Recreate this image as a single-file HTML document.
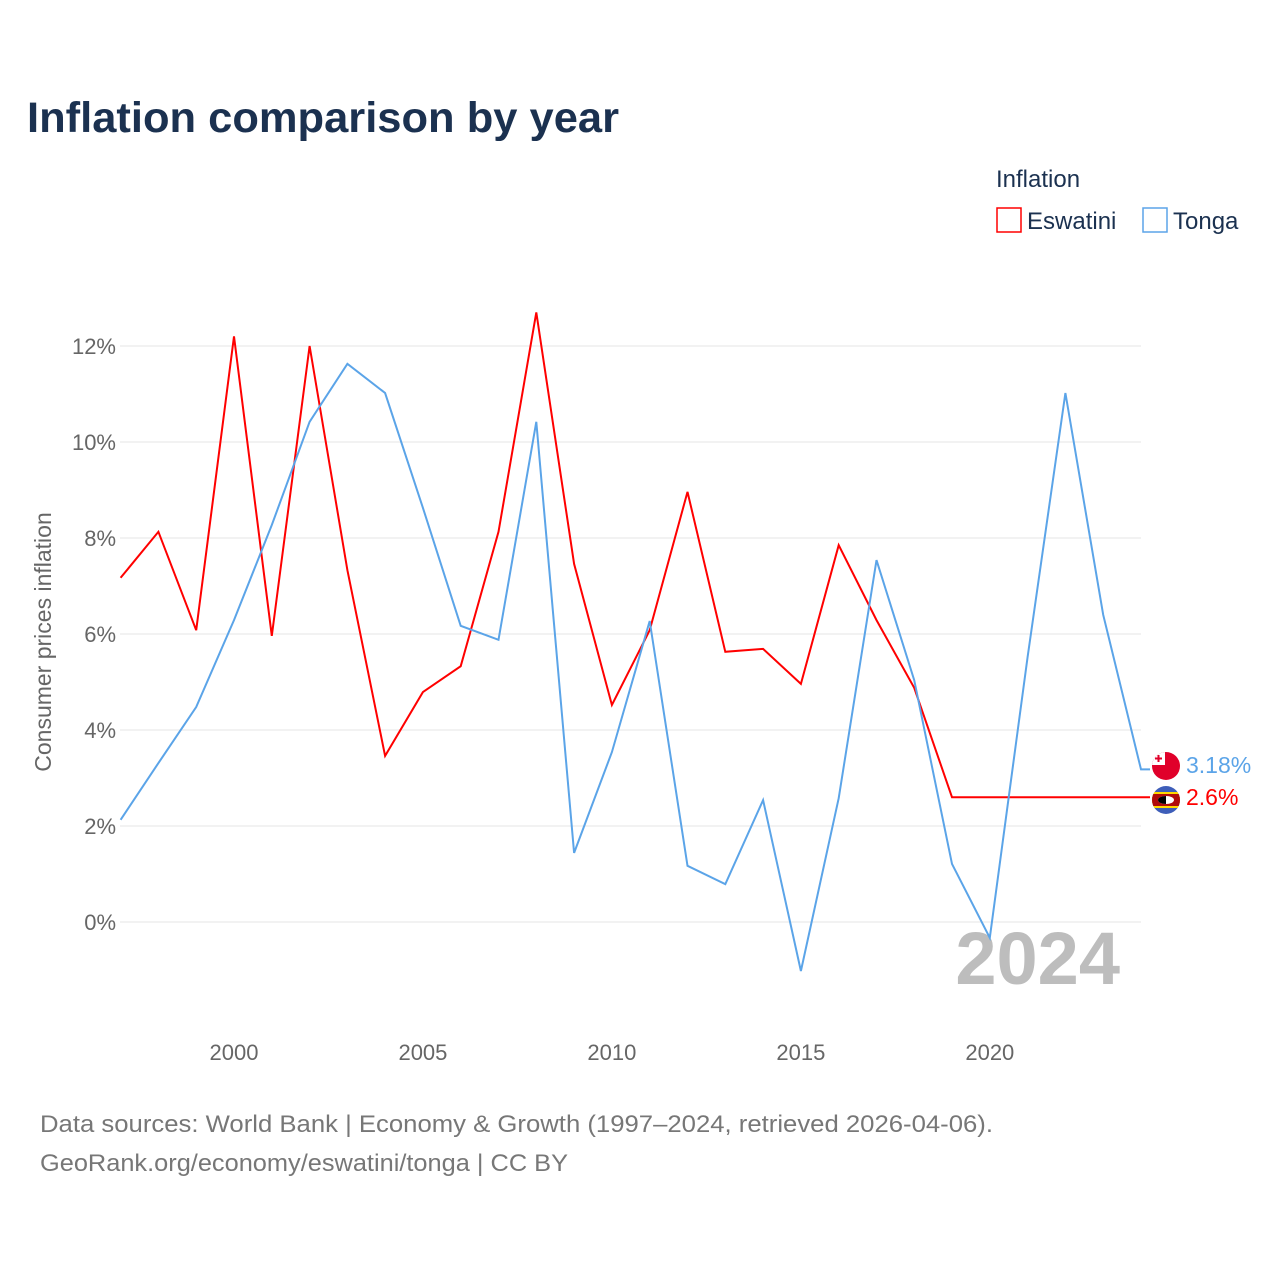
<!DOCTYPE html>
<html><head><meta charset="utf-8"><style>
body{margin:0;background:#fff;font-family:"Liberation Sans",sans-serif;}
#wrap{position:relative;width:1280px;height:1280px;overflow:hidden;}
</style></head><body>
<div id="wrap">
<svg id="chart" width="1280" height="1280" xmlns="http://www.w3.org/2000/svg">
<text x="27" y="132" font-size="43" font-weight="bold" fill="#1b3150" textLength="592" lengthAdjust="spacingAndGlyphs">Inflation comparison by year</text>
<text x="996" y="187" font-size="24" fill="#1b3150">Inflation</text>
<g><rect x="997" y="208" width="24" height="24" fill="none" stroke="#ff0000" stroke-width="1.5"/><text x="1027" y="229" font-size="24" fill="#1b3150">Eswatini</text></g>
<g><rect x="1143" y="208" width="24" height="24" fill="none" stroke="#5ba4e8" stroke-width="1.5"/><text x="1173" y="229" font-size="24" fill="#1b3150">Tonga</text></g>
<g id="grid"></g><g id="yticks"></g><g id="xticks"></g>
<text x="1120" y="984" font-size="74" font-weight="bold" fill="#bdbdbd" text-anchor="end">2024</text>
<text transform="translate(51,642) rotate(-90)" font-size="23" fill="#666" text-anchor="middle">Consumer prices inflation</text>
<g id="series"></g>
<g><clipPath id="ct"><circle cx="1166" cy="766" r="14"/></clipPath><g clip-path="url(#ct)"><rect x="1152" y="752" width="28" height="28" fill="#e0002a"/><rect x="1152" y="752" width="13" height="13" fill="#fff"/><path d="M1158.5 755v7M1155 758.5h7" stroke="#e0002a" stroke-width="2"/></g></g>
<g><clipPath id="ce"><circle cx="1166" cy="800" r="14"/></clipPath><g clip-path="url(#ce)"><rect x="1152" y="786" width="28" height="28" fill="#3e5eb9"/><rect x="1152" y="792" width="28" height="16" fill="#ffd900"/><rect x="1152" y="794" width="28" height="12" fill="#b10c0c"/><ellipse cx="1166" cy="800" rx="8" ry="4" fill="#fff"/><path d="M1158 800a8 4 0 0 0 8 4v-8a8 4 0 0 0-8 4z" fill="#000"/></g></g>
<text x="1186" y="773" font-size="23" fill="#5ba4e8">3.18%</text>
<text x="1186" y="805" font-size="23" fill="#ff0000">2.6%</text>
<text x="40" y="1132" font-size="24" fill="#777" textLength="953" lengthAdjust="spacingAndGlyphs">Data sources: World Bank | Economy &amp; Growth (1997–2024, retrieved 2026-04-06).</text>
<text x="40" y="1171" font-size="24" fill="#777" textLength="528" lengthAdjust="spacingAndGlyphs">GeoRank.org/economy/eswatini/tonga | CC BY</text>
</svg></div>
<script>
const years=[1997,1998,1999,2000,2001,2002,2003,2004,2005,2006,2007,2008,2009,2010,2011,2012,2013,2014,2015,2016,2017,2018,2019,2020,2021,2022,2023,2024];
const eswatini=[7.17,8.13,6.08,12.2,5.96,12.0,7.33,3.46,4.79,5.33,8.13,12.7,7.46,4.52,6.08,8.96,5.63,5.69,4.96,7.85,6.29,4.88,2.6,2.6,2.6,2.6,2.6,2.6];
const tonga=[2.13,3.31,4.48,6.29,8.27,10.42,11.63,11.02,8.63,6.17,5.88,10.42,1.44,3.54,6.27,1.17,0.79,2.54,-1.02,2.58,7.54,5.04,1.21,-0.33,5.52,11.02,6.4,3.18];
const yTicks=[0,2,4,6,8,10,12];
const xTicks=[2000,2005,2010,2015,2020];
const NS="http://www.w3.org/2000/svg";
const xs=y=>120.6+(y-1997)*(1141-120.6)/27;
const ys=v=>922-v*48;
function mk(tag,attrs,parent){const e=document.createElementNS(NS,tag);for(const k in attrs)e.setAttribute(k,attrs[k]);document.getElementById(parent).appendChild(e);return e;}
yTicks.forEach(t=>{
const l=mk('line',{x1:120,x2:1141,y1:ys(t),y2:ys(t),stroke:'#e6e6e6','stroke-width':1},'grid');


const tx=mk('text',{x:116,y:ys(t)+8,'font-size':22,fill:'#666','text-anchor':'end'},'yticks');
tx.textContent=t+'%';


});
xTicks.forEach(t=>{
const tx=mk('text',{x:xs(t),y:1060,'font-size':22,fill:'#666','text-anchor':'middle'},'xticks');
tx.textContent=t;


});
function line(vals,color,name){
const d=vals.map((v,i)=>(i?'L':'M')+xs(years[i]).toFixed(1)+' '+ys(v).toFixed(1)).join(' ')+' H1150';
const p=mk('path',{d:d,fill:'none',stroke:color,'stroke-width':2,'stroke-linejoin':'miter'},'series');


}
line(eswatini,'#ff0000','line-eswatini');
line(tonga,'#5ba4e8','line-tonga');
</script>
</body></html>
